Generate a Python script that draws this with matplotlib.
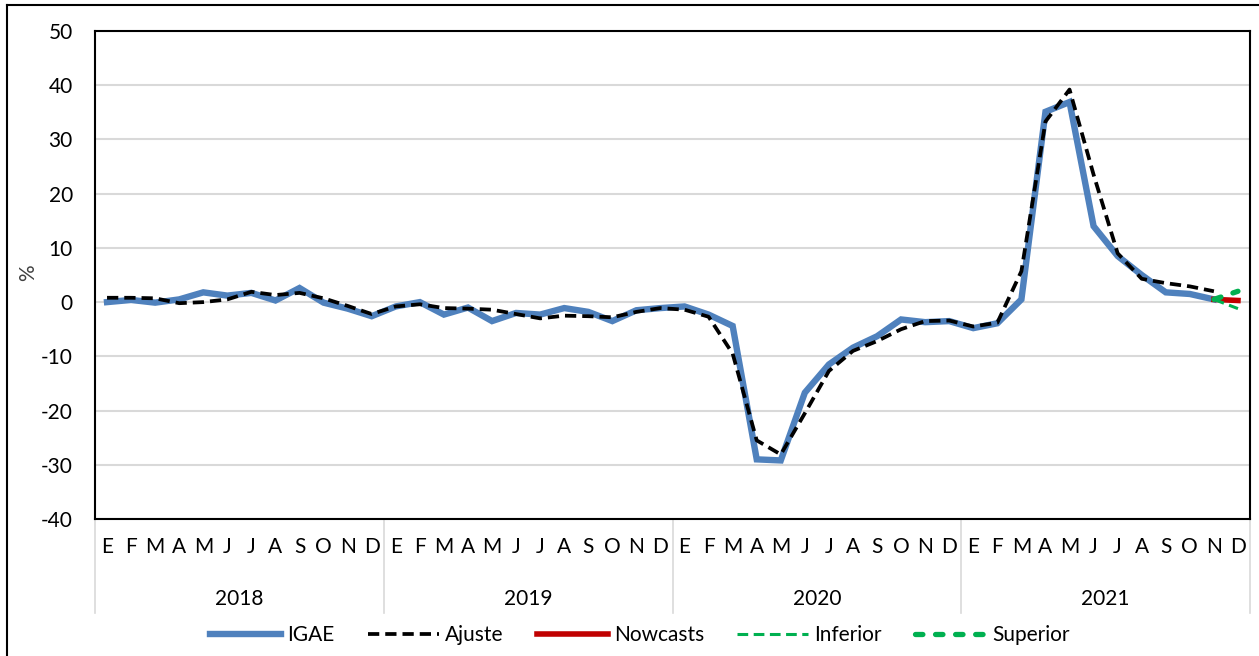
import numpy as np
import matplotlib
matplotlib.use("Agg")
import matplotlib.pyplot as plt
from matplotlib.lines import Line2D
import matplotlib.transforms as mtransforms

plt.rcParams['font.family'] = ['Lato', 'DejaVu Sans']
plt.rcParams['axes.unicode_minus'] = False

years = ["2018", "2019", "2020", "2021"]
months = ["E", "F", "M", "A", "M", "J", "J", "A", "S", "O", "N", "D"]

igae = [0.0, 0.4, -0.1, 0.5, 1.8, 1.2, 1.7, 0.3, 2.6, -0.1, -1.2, -2.6,
        -0.8, 0.0, -2.3, -1.0, -3.5, -2.0, -2.3, -1.1, -1.8, -3.5, -1.5, -1.1,
        -0.8, -2.3, -4.4, -29.0, -29.2, -16.7, -11.5, -8.4, -6.3, -3.2, -3.7, -3.5,
        -4.8, -3.9, 0.5, 35.1, 36.9, 14.0, 8.5, 5.0, 1.8, 1.5, 0.5, np.nan]
ajuste = [0.8, 0.8, 0.7, -0.2, 0.0, 0.5, 1.9, 1.3, 1.7, 0.7, -0.7, -2.2,
          -0.8, -0.4, -1.1, -1.2, -1.4, -2.2, -3.0, -2.5, -2.6, -2.8, -1.8, -1.1,
          -1.4, -2.7, -9.5, -25.5, -28.1, -20.5, -12.7, -9.0, -7.2, -5.0, -3.5, -3.4,
          -4.5, -3.8, 5.7, 33.3, 39.2, 23.5, 9.0, 4.3, 3.5, 2.9, 2.0, np.nan]
nowcast_months = [46, 47]
nowcasts = [0.5, 0.3]
inferior = [0.5, -1.2]
superior = [0.5, 2.0]

W, H = 1259, 656
fig = plt.figure(figsize=(W / 100, H / 100), dpi=100)
ax = fig.add_axes([95 / W, 1 - 519 / H, (1250 - 95) / W, (519 - 31) / H])

x = np.arange(len(igae))
ax.plot(x, igae, color='#4F81BD', lw=4.6, solid_joinstyle='miter', label='IGAE', zorder=3)
ax.plot(x, ajuste, color='black', lw=2.7, dashes=(3, 1.6), label='Ajuste', zorder=4)
ax.plot(nowcast_months, nowcasts, color='#C00000', lw=4.0, label='Nowcasts', zorder=5)
ax.plot(nowcast_months, inferior, color='#00B050', lw=2.2, dashes=(3.5, 1.8), label='Inferior', zorder=6)
ax.plot(nowcast_months, superior, color='#00B050', lw=3.8, dashes=(1.4, 2.4),
        dash_capstyle='round', label='Superior', zorder=7)

ax.set_xlim(-0.5, 47.5)
ax.set_ylim(-40, 50)
ax.set_yticks(np.arange(-40, 51, 10))
ax.yaxis.grid(True, color='#D9D9D9', lw=1.5)
ax.set_axisbelow(True)
for s in ax.spines.values():
    s.set_color('black')
    s.set_linewidth(1.5)
ax.tick_params(axis='y', length=0, pad=16, labelsize=15)
ax.set_xticks(x)
ax.set_xticklabels(months * len(years))
ax.tick_params(axis='x', length=0, pad=13, labelsize=15)

trans = mtransforms.blended_transform_factory(ax.transData, ax.transAxes)
for k in range(len(years) + 1):
    xs = -0.5 + 12 * k
    ax.add_line(Line2D([xs, xs], [0, -0.192], transform=trans, color='#D9D9D9',
                       lw=1.2, clip_on=False))
for k, yr in enumerate(years):
    ax.text(5.5 + 12 * k, -0.163, yr, transform=trans, ha='center', va='center',
            fontsize=15)

fig.text(28 / W, 1 - 273 / H, '%', rotation=90, ha='center', va='center', fontsize=15,
         color='#404040')

# outer frame
fig.add_artist(Line2D([7 / W, 7 / W], [0, 1 - 5 / H], transform=fig.transFigure,
                      color='black', lw=1.5))
fig.add_artist(Line2D([7 / W, 1], [1 - 5 / H, 1 - 5 / H], transform=fig.transFigure,
                      color='black', lw=1.5))

fig.legend(loc='center', bbox_to_anchor=(640 / W, 1 - 635 / H), ncol=5, frameon=False,
           fontsize=15, handlelength=3.4, handletextpad=0.3, columnspacing=1.6)

fig.savefig('out.png', dpi=100)
